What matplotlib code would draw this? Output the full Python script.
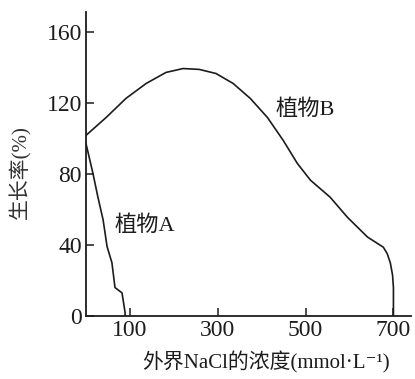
import matplotlib
matplotlib.use("Agg")
import matplotlib.pyplot as plt

# growth rate (%) vs external NaCl concentration (mmol/L)
plant_b_x = [0, 46, 91, 137, 182, 221, 258, 296, 335, 374, 413, 449, 481, 511,
             556, 595, 641, 677, 686, 693, 698, 700, 700]
plant_b_y = [101.6, 111.7, 122.4, 130.8, 137, 139.2, 138.7, 136.4, 130.8, 122.4,
             111.7, 98.8, 85.9, 76.4, 66.8, 55.6, 44.4, 38.7, 35, 29.8, 23, 16, 0]

plant_a_x = [0, 16, 27, 39, 48, 59, 66, 82, 89, 89]
plant_a_y = [97, 80, 67, 54, 39, 30, 16, 13, 2, 0]

x_ticks = [100, 300, 500, 700]
y_ticks = [0, 40, 80, 120, 160]

# serif for latin/digits, CJK fallback, DejaVu for the superscript minus
FONT = ["Liberation Serif", "Noto Sans CJK SC", "DejaVu Serif"]
plt.rcParams["font.family"] = FONT
ink = "#1c1c1c"

fig = plt.figure(figsize=(4.15, 3.79), dpi=100)
ax = fig.add_axes([86 / 415, 1 - 316 / 379, 325 / 415, 304 / 379])

ax.plot(plant_b_x, plant_b_y, color=ink, lw=1.2, solid_joinstyle="round")
ax.plot(plant_a_x, plant_a_y, color=ink, lw=1.2, solid_joinstyle="round")

ax.set_xlim(0, 740)
ax.set_ylim(0, 171)
ax.set_xticks(x_ticks)
ax.set_yticks(y_ticks)

for side in ("top", "right"):
    ax.spines[side].set_visible(False)
for side in ("left", "bottom"):
    ax.spines[side].set_linewidth(1.3)
    ax.spines[side].set_color(ink)

ax.tick_params(direction="in", length=6, width=1.1, colors=ink, labelsize=17, pad=3)

ax.text(431, 116, "植物B", fontsize=16, color=ink, va="center", ha="left")
ax.text(66, 51, "植物A", fontsize=16, color=ink, va="center", ha="left")

fig.text(20 / 415, 1 - 172 / 379, "生长率(%)", rotation=90, fontsize=15,
         color="#333333", ha="center", va="center")
fig.text(266 / 415, 1 - 362 / 379, "外界NaCl的浓度(mmol·L⁻¹)", fontsize=15,
         color=ink, ha="center", va="center")

fig.savefig("out.png", dpi=100)
